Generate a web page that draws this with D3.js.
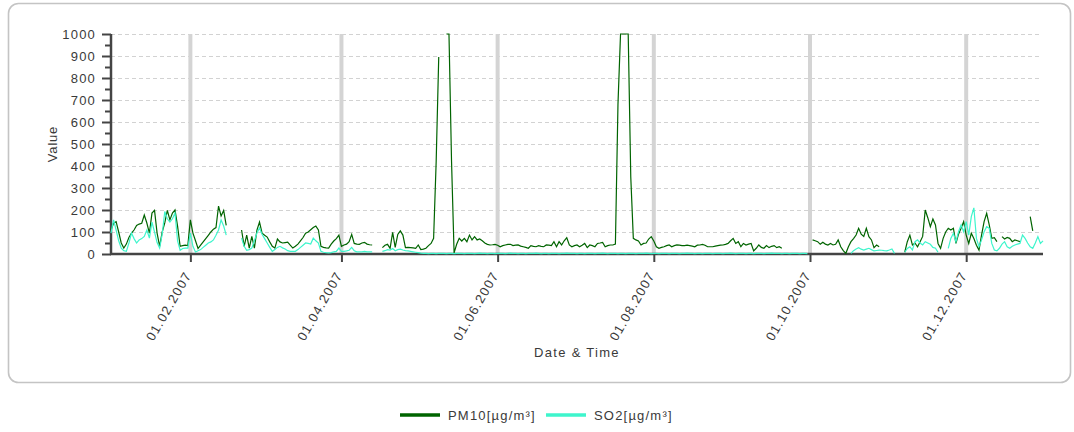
<!DOCTYPE html>
<html>
<head>
<meta charset="utf-8">
<script src="https://cdnjs.cloudflare.com/ajax/libs/d3/7.8.5/d3.min.js"></script>
<style>
  body { margin: 0; background: #fff; }
  text { font-family: "Liberation Sans", Arial, sans-serif; fill: #3a3a3a; }
</style>
</head>
<body>
<div id="chart"></div>
<script>
// daily values from 01.01.2007, null = no measurement
var startDate = "2007-01-01";

var pm10 = [
  109,140,147,100,50,27,45,75,95,109,
  130,136,140,177,141,95,186,198,95,35,
  100,141,198,155,186,200,127,35,38,40,
  38,155,95,60,25,40,55,70,85,100,
  113,120,218,173,198,130,null,null,null,null,
  null,109,35,86,27,80,27,109,145,95,
  85,77,55,35,27,68,55,50,52,54,
  40,27,35,45,60,75,95,100,110,120,
  127,109,35,30,28,27,45,59,70,86,
  35,41,45,56,89,48,45,44,50,53,
  45,42,41,null,null,null,29,40,44,26,
  98,30,89,105,86,29,30,29,28,26,
  41,20,22,26,38,48,71,420,895,null,
  null,1000,1000,420,5,44,71,59,71,56,
  86,64,79,64,68,60,50,44,41,42,
  44,40,33,38,41,44,44,38,40,41,
  36,33,30,26,38,35,33,38,35,33,
  41,40,38,56,33,56,41,60,74,41,
  33,38,41,33,40,48,29,41,38,33,
  48,50,53,33,38,41,41,45,680,1000,
  1000,1000,1000,350,71,64,59,41,48,50,
  68,79,59,33,26,30,33,38,41,33,
  38,41,40,38,38,40,38,36,33,40,
  41,44,40,33,33,33,36,38,40,41,
  44,48,60,71,48,56,33,48,41,45,
  48,14,26,41,30,26,38,29,35,38,
  29,33,26,null,null,null,null,null,null,null,
  null,null,null,null,64,60,56,44,53,45,
  41,48,41,44,64,33,15,3,33,56,
  70,86,117,90,80,117,79,64,29,41,
  33,null,null,null,null,null,null,null,null,null,
  8,56,86,41,50,33,56,80,200,165,
  124,159,132,48,26,71,100,117,109,117,
  48,90,117,147,86,48,94,70,40,18,
  86,147,185,132,71,74,56,null,79,68,
  75,71,56,64,60,56,null,null,null,170,
  105,null,null,null,null
];

var so2 = [
  95,155,109,60,27,15,12,50,95,70,
  50,64,70,80,109,72,145,100,52,27,
  90,193,160,145,160,186,60,17,25,27,
  27,95,35,9,15,20,30,40,50,55,
  64,85,109,155,127,86,null,null,null,null,
  null,72,35,17,20,27,60,95,118,90,
  70,50,30,12,20,30,35,28,23,15,
  12,12,12,20,30,40,50,48,45,72,
  60,50,12,8,6,5,6,10,12,27,
  12,12,14,17,30,15,10,10,10,12,
  10,10,10,null,null,null,12,15,20,18,
  25,15,20,22,18,15,14,12,10,8,
  6,4,3,3,2,3,3,2,3,3,
  3,2,3,3,2,3,3,3,2,3,
  3,3,2,3,4,3,3,2,3,3,
  2,3,3,3,2,3,4,3,3,2,
  3,3,2,3,3,3,4,3,2,3,
  3,2,3,3,3,2,3,3,4,3,
  3,3,2,3,3,2,3,3,3,2,
  3,3,4,3,2,3,3,3,2,3,
  3,2,3,3,3,2,3,3,3,4,
  3,2,3,3,2,3,3,3,2,3,
  3,3,2,3,3,4,3,3,2,3,
  3,2,3,3,3,2,3,3,3,2,
  3,3,4,3,2,3,3,3,2,3,
  3,2,3,3,3,2,3,3,4,3,
  3,3,2,3,3,2,3,3,3,2,
  3,3,2,null,null,null,null,null,null,null,
  null,null,null,null,null,null,null,null,null,3,
  15,23,29,22,18,22,26,20,14,16,
  18,17,15,14,18,23,3,null,null,null,
  8,25,33,18,56,64,50,41,56,50,
  44,30,26,8,null,null,null,26,71,94,
  56,101,132,101,147,86,170,210,71,33,
  64,101,124,117,48,18,14,26,45,56,
  33,26,35,41,45,48,86,71,50,33,
  26,50,79,48,60
];

var seriesNames = ["PM10[µg/m³]", "SO2[µg/m³]"];
var seriesColours = ["#006400", "#3ef5cc"];
var tickDates = ["2007-02-01", "2007-04-01", "2007-06-01", "2007-08-01", "2007-10-01", "2007-12-01"];
var yMax = 1000;

var width = 1074;
var height = 432;

var margin = {top: 34, left: 111, right: 31, bottom: 178};
var plotW = width - margin.left - margin.right;
var plotH = height - margin.top - margin.bottom;

var parse = d3.utcParse("%Y-%m-%d");
var start = parse(startDate);

var svg = d3.select("#chart")
    .append("svg")
    .attr("width", width)
    .attr("height", height);

// outer frame
svg.append("rect")
    .attr("x", 8.5)
    .attr("y", 3.5)
    .attr("width", 1062)
    .attr("height", 379)
    .attr("rx", 10)
    .attr("fill", "#fff")
    .attr("stroke", "#c4c4c4")
    .attr("stroke-width", 1.6);

var g = svg.append("g")
    .attr("transform", "translate(" + margin.left + "," + margin.top + ")");

var x = d3.scaleUtc()
    .domain([start, d3.utcDay.offset(start, pm10.length - 1)])
    .range([0, plotW]);

var y = d3.scaleLinear()
    .domain([0, yMax])
    .range([plotH, 0]);

function toPoints(arr) {
    return arr.map(function(v, i) {
        return {date: d3.utcDay.offset(start, i), value: v};
    });
}

var ticks = tickDates.map(parse);

// horizontal dashed grid
g.append("g")
    .selectAll("line")
    .data(y.ticks(10).filter(function(d) { return d > 0; }))
    .enter().append("line")
    .attr("x1", 0)
    .attr("x2", plotW - 2)
    .attr("y1", function(d) { return Math.round(y(d)) + 0.5; })
    .attr("y2", function(d) { return Math.round(y(d)) + 0.5; })
    .attr("stroke", "#d2d2d2")
    .attr("stroke-dasharray", "4,3");

// vertical grid at the date ticks
g.append("g")
    .selectAll("line")
    .data(ticks)
    .enter().append("line")
    .attr("x1", function(d) { return x(d); })
    .attr("x2", function(d) { return x(d); })
    .attr("y1", 0)
    .attr("y2", plotH)
    .attr("stroke", "#d4d4d4")
    .attr("stroke-width", 4);

// y axis, minor then major
g.append("g")
    .call(d3.axisLeft(y).tickValues(d3.range(50, yMax, 100)).tickSize(6).tickFormat(""))
    .call(function(a) { a.select(".domain").remove(); });

var yAxis = g.append("g")
    .attr("class", "y axis")
    .call(d3.axisLeft(y).ticks(10).tickSize(9).tickPadding(6).tickFormat(d3.format("d")));

g.selectAll(".tick line")
    .attr("stroke", "#444")
    .attr("stroke-width", 2);

yAxis.select(".domain").remove();
yAxis.selectAll("text")
    .style("font-size", "13px")
    .style("letter-spacing", "1.2px")
    .attr("fill", "#3a3a3a");

// x axis
var xAxis = g.append("g")
    .attr("class", "x axis")
    .attr("transform", "translate(0," + plotH + ")")
    .call(d3.axisBottom(x).tickValues(ticks).tickSize(8).tickFormat(d3.utcFormat("%d.%m.%Y")));

xAxis.select(".domain").remove();
xAxis.selectAll(".tick line")
    .attr("stroke", "#444")
    .attr("stroke-width", 2);
xAxis.selectAll("text")
    .style("font-size", "13px")
    .style("letter-spacing", "1.2px")
    .attr("fill", "#3a3a3a")
    .attr("text-anchor", "end")
    .attr("y", 0)
    .attr("dy", 0)
    .attr("transform", "translate(1,21) rotate(-60)");

// axis lines
g.append("line")
    .attr("x1", 0).attr("x2", 0)
    .attr("y1", 0).attr("y2", plotH + 1)
    .attr("stroke", "#444").attr("stroke-width", 2.5);

g.append("line")
    .attr("x1", -1).attr("x2", plotW)
    .attr("y1", plotH).attr("y2", plotH)
    .attr("stroke", "#444").attr("stroke-width", 2.5);

var line = d3.line()
    .defined(function(d) { return d.value != null; })
    .x(function(d) { return x(d.date); })
    .y(function(d) { return y(Math.min(d.value, yMax)); });

[pm10, so2].forEach(function(arr, i) {
    g.append("path")
        .datum(toPoints(arr))
        .attr("fill", "none")
        .attr("stroke", seriesColours[i])
        .attr("stroke-width", 1.2)
        .attr("d", line);
});

// axis titles
svg.append("text")
    .attr("transform", "translate(57," + (margin.top + plotH / 2) + ") rotate(-90)")
    .attr("text-anchor", "middle")
    .style("font-size", "13px")
    .style("letter-spacing", "0.8px")
    .text("Value");

svg.append("text")
    .attr("x", margin.left + plotW / 2)
    .attr("y", 357)
    .attr("text-anchor", "middle")
    .style("font-size", "13px")
    .style("letter-spacing", "1.3px")
    .text("Date & Time");

// legend
var legendX = [400, 546];
var legend = svg.selectAll(".legend")
    .data(seriesNames)
    .enter().append("g")
    .attr("class", "legend")
    .attr("transform", function(d, i) { return "translate(" + legendX[i] + ",415)"; });

legend.append("line")
    .attr("x1", 0).attr("x2", 40)
    .attr("stroke", function(d, i) { return seriesColours[i]; })
    .attr("stroke-width", 3.5);

legend.append("text")
    .attr("x", 48)
    .attr("y", 5)
    .style("font-size", "13px")
    .style("letter-spacing", "1.2px")
    .text(function(d) { return d; });
</script>
</body>
</html>
